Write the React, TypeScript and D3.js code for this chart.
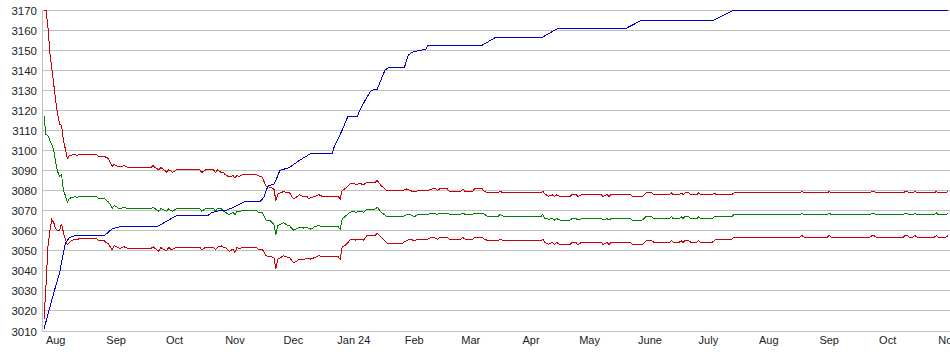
import React, { useEffect, useRef } from "react";
import * as d3 from "d3";

// daily values (only the days where something changes)
const bandDates = [
  "2023-08-09", "2023-08-10", "2023-08-11", "2023-08-12", "2023-08-13", "2023-08-14", "2023-08-15", "2023-08-16",
  "2023-08-17", "2023-08-18", "2023-08-19", "2023-08-20", "2023-08-21", "2023-08-22", "2023-08-23", "2023-08-24",
  "2023-08-25", "2023-08-26", "2023-08-27", "2023-09-05", "2023-09-06", "2023-09-09", "2023-09-10", "2023-09-11",
  "2023-09-12", "2023-09-13", "2023-09-14", "2023-09-15", "2023-09-17", "2023-09-19", "2023-09-21", "2023-10-03",
  "2023-10-04", "2023-10-05", "2023-10-07", "2023-10-08", "2023-10-11", "2023-10-12", "2023-10-13", "2023-10-14",
  "2023-10-16", "2023-10-28", "2023-10-29", "2023-10-31", "2023-11-04", "2023-11-05", "2023-11-06", "2023-11-08",
  "2023-11-09", "2023-11-10", "2023-11-12", "2023-11-14", "2023-11-15", "2023-11-16", "2023-11-17", "2023-11-19",
  "2023-11-26", "2023-11-27", "2023-11-29", "2023-12-01", "2023-12-03", "2023-12-05", "2023-12-06", "2023-12-07",
  "2023-12-10", "2023-12-12", "2023-12-13", "2023-12-15", "2023-12-17", "2023-12-18", "2023-12-20", "2023-12-22",
  "2023-12-23", "2023-12-24", "2023-12-26", "2023-12-28", "2023-12-30", "2024-01-07", "2024-01-08", "2024-01-09",
  "2024-01-11", "2024-01-13", "2024-01-15", "2024-01-16", "2024-01-18", "2024-01-20", "2024-01-22", "2024-01-26",
  "2024-01-27", "2024-01-29", "2024-02-01", "2024-02-09", "2024-02-11", "2024-02-13", "2024-02-15", "2024-02-17",
  "2024-02-22", "2024-02-24", "2024-02-26", "2024-02-27", "2024-02-28", "2024-03-03", "2024-03-04", "2024-03-10",
  "2024-03-11", "2024-03-12", "2024-03-16", "2024-03-17", "2024-03-21", "2024-03-22", "2024-03-24", "2024-03-29",
  "2024-03-30", "2024-04-01", "2024-04-20", "2024-04-21", "2024-04-22", "2024-04-24", "2024-04-26", "2024-04-27",
  "2024-04-28", "2024-04-30", "2024-05-05", "2024-05-06", "2024-05-08", "2024-05-09", "2024-05-11", "2024-05-21",
  "2024-05-22", "2024-05-24", "2024-05-25", "2024-05-26", "2024-06-05", "2024-06-06", "2024-06-11", "2024-06-13",
  "2024-06-16", "2024-06-17", "2024-06-25", "2024-06-26", "2024-06-27", "2024-06-30", "2024-07-01", "2024-07-02",
  "2024-07-03", "2024-07-05", "2024-07-06", "2024-07-09", "2024-07-10", "2024-07-11", "2024-07-17", "2024-07-18",
  "2024-07-19", "2024-07-27", "2024-07-28", "2024-08-31", "2024-09-01", "2024-09-02", "2024-09-14", "2024-09-15",
  "2024-09-16", "2024-10-06", "2024-10-07", "2024-10-08", "2024-10-09", "2024-10-23", "2024-10-24", "2024-10-25",
  "2024-10-26", "2024-10-28", "2024-10-29", "2024-10-30", "2024-11-08", "2024-11-09", "2024-11-10", "2024-11-14", "2024-11-15",
];

const upperBand = [
  3170, 3170, 3162, 3149, 3141, 3133, 3125, 3118,
  3113, 3112.5, 3105, 3100.5, 3096, 3097.5, 3097.5, 3098,
  3098, 3097.5, 3098, 3098, 3097, 3097, 3096.5, 3096,
  3094, 3092, 3093, 3092.5, 3091.7, 3092.5, 3091.5, 3091.5,
  3092.5, 3091.5, 3090.3, 3091.5, 3089.2, 3090.3, 3089.8, 3089,
  3090.3, 3090.3, 3089, 3090.3, 3090.3, 3089, 3090.3, 3089,
  3089, 3088, 3086.7, 3087.5, 3086.2, 3087.8, 3087, 3088,
  3088, 3087.3, 3086.7, 3082, 3081.7, 3080.8, 3075, 3078.3,
  3079.5, 3079, 3079, 3075.8, 3077, 3078, 3077, 3077,
  3075.8, 3076.5, 3077, 3078, 3077, 3077, 3075.8, 3080,
  3081.3, 3083.3, 3083.5, 3083, 3083.5, 3083, 3084.2, 3084.2,
  3085, 3082.5, 3080, 3080, 3080.8, 3080, 3079.3, 3080,
  3080, 3080.8, 3080.8, 3080, 3080.8, 3080.8, 3079.6, 3079.6,
  3080.8, 3079.6, 3079.6, 3080.8, 3080.8, 3079.6, 3078.8, 3078.8,
  3079.6, 3078.8, 3078.8, 3079.6, 3078.3, 3077.2, 3077.8, 3077,
  3077.8, 3077, 3077, 3078, 3078, 3077, 3078, 3078,
  3077, 3078, 3077, 3078, 3078, 3077, 3077, 3078.8,
  3078.8, 3078, 3078, 3078.8, 3078, 3078, 3078.8, 3078,
  3078.8, 3078.8, 3078, 3078, 3078.8, 3078, 3078, 3078.8,
  3078, 3078, 3078.8, 3078.8, 3079.6, 3078.8, 3078.8, 3079.6,
  3078.8, 3078.8, 3079.6, 3079.6, 3078.8, 3078.8, 3079.6, 3079.6,
  3078.8, 3078.8, 3079.6, 3078.8, 3078.8, 3079.6, 3078.8, 3078.8, 3079.6,
];

const middleLine = [
  3117, 3108, 3107.5, 3105, 3103, 3100, 3094, 3089.5,
  3087, 3088, 3080, 3077.5, 3074, 3076, 3076.5, 3076.5,
  3077, 3076.5, 3077, 3077, 3076, 3076, 3075, 3074.5,
  3073, 3071, 3072.5, 3072, 3070.8, 3071.7, 3071, 3071,
  3071.7, 3071, 3069.7, 3071, 3069.7, 3071, 3070, 3069.7,
  3071, 3071, 3069.7, 3071, 3071, 3069.7, 3071, 3071,
  3069.7, 3069.2, 3068, 3069, 3068, 3069.7, 3069.5, 3070,
  3070, 3069.2, 3069.2, 3065.3, 3065, 3063.3, 3058, 3062.5,
  3064, 3062.5, 3062.5, 3060.3, 3061, 3061.7, 3061.3, 3061.7,
  3061, 3060.8, 3062, 3062.5, 3062, 3062, 3060.8, 3065.8,
  3067.5, 3069.2, 3069.7, 3069.2, 3069.7, 3069.2, 3070.8, 3070.8,
  3071.7, 3069.2, 3067, 3067, 3068, 3068, 3067, 3068,
  3068, 3068.8, 3068.5, 3068, 3068.8, 3068.8, 3068.2, 3068.2,
  3068.8, 3068.2, 3068.2, 3068.8, 3068.8, 3068.2, 3067, 3067,
  3068.2, 3067, 3067, 3068.2, 3066.2, 3065.7, 3066, 3065.3,
  3066, 3065.3, 3065.3, 3066, 3066, 3065.3, 3066, 3066,
  3065.3, 3066, 3065.3, 3066, 3066, 3065.3, 3065.3, 3067,
  3067, 3066, 3066, 3067, 3066, 3066, 3067, 3066,
  3067, 3067, 3066, 3066, 3067, 3066, 3066, 3067,
  3067, 3067, 3068, 3068, 3068.8, 3068, 3068, 3068.8,
  3068, 3068, 3068.8, 3068.8, 3068, 3068, 3068.8, 3068.8,
  3068, 3068, 3068.8, 3068, 3068, 3068.8, 3068, 3068, 3068.8,
];

const lowerBand = [
  3016, 3032, 3052, 3060, 3065.5, 3064, 3061, 3060,
  3060, 3063.5, 3059, 3055.5, 3053, 3054, 3055, 3055.5,
  3055.5, 3055.5, 3056, 3056, 3055, 3055, 3054, 3053.5,
  3052, 3050.5, 3052.5, 3052, 3051.2, 3052, 3051.2, 3051.2,
  3052, 3051.2, 3049.7, 3051.5, 3050, 3051.7, 3050.8, 3050.8,
  3051.7, 3051.7, 3050.5, 3051.7, 3051.7, 3050.5, 3051.7, 3052.5,
  3051.7, 3051.7, 3049.7, 3050.8, 3049.2, 3051.7, 3051, 3051.7,
  3051.7, 3050.8, 3050.8, 3047.5, 3047, 3046.7, 3040.8, 3045.8,
  3047.5, 3046.7, 3046.7, 3044, 3045, 3045.8, 3045.5, 3046.3,
  3046.3, 3045.8, 3046.7, 3047.5, 3047, 3047, 3045.8, 3051.7,
  3053, 3055.3, 3055.8, 3055.3, 3055.8, 3055.3, 3057.8, 3057.8,
  3058.7, 3056.7, 3053.8, 3053.8, 3055, 3055.8, 3055, 3055.8,
  3055.8, 3056.7, 3056.3, 3055.5, 3056.7, 3056.7, 3055.8, 3055.8,
  3056.7, 3055.8, 3055.8, 3056.7, 3056.7, 3055.8, 3055, 3055,
  3055.8, 3055, 3055, 3055.8, 3054.2, 3053.3, 3054.2, 3053,
  3054.2, 3053, 3053, 3054.2, 3054.2, 3053, 3054.2, 3054.2,
  3053, 3054.2, 3053, 3054.2, 3054.2, 3053, 3053, 3055,
  3055, 3054.2, 3054.2, 3055, 3054.2, 3054.2, 3055, 3054.2,
  3055, 3055, 3054.2, 3054.2, 3055, 3054.2, 3054.2, 3055,
  3055.8, 3055.8, 3056.8, 3056.8, 3057.6, 3056.8, 3056.8, 3057.6,
  3056.8, 3056.8, 3057.6, 3057.6, 3056.8, 3056.8, 3057.6, 3057.6,
  3056.8, 3056.8, 3057.6, 3056.8, 3056.8, 3057.6, 3056.8, 3056.8, 3057.6,
];

const peakDates = [
  "2023-08-09", "2023-08-14", "2023-08-17", "2023-08-20", "2023-08-22", "2023-08-25", "2023-09-09", "2023-09-13",
  "2023-09-17", "2023-10-06", "2023-10-16", "2023-11-01", "2023-11-03", "2023-11-07", "2023-11-10", "2023-11-14",
  "2023-11-20", "2023-11-28", "2023-11-30", "2023-12-02", "2023-12-05", "2023-12-06", "2023-12-08", "2023-12-13",
  "2023-12-18", "2023-12-24", "2024-01-04", "2024-01-05", "2024-01-09", "2024-01-12", "2024-01-17", "2024-01-18",
  "2024-01-22", "2024-01-24", "2024-01-27", "2024-01-31", "2024-02-02", "2024-02-10", "2024-02-12", "2024-02-14",
  "2024-02-21", "2024-02-22", "2024-03-21", "2024-03-28", "2024-04-21", "2024-04-29", "2024-06-03", "2024-06-11",
  "2024-07-18", "2024-07-28", "2024-11-15",
];

const peakValues = [
  3011, 3029, 3039, 3054, 3056.5, 3057.5, 3057.5, 3061,
  3062, 3062, 3067.5, 3067.5, 3069, 3070, 3070, 3071.5,
  3074.5, 3074.5, 3077, 3082.5, 3083, 3085, 3090, 3091.5,
  3095, 3098.5, 3098.5, 3102, 3110, 3117, 3117, 3120,
  3127, 3130, 3130.5, 3140, 3141.5, 3141.5, 3147.5, 3149,
  3150.5, 3152.5, 3152.5, 3156.5, 3156.5, 3161, 3161, 3165,
  3165, 3170, 3170,
];

const monthLabels = [
  "Aug", "Sep", "Oct", "Nov", "Dec", "Jan 24", "Feb", "Mar",
  "Apr", "May", "June", "July", "Aug", "Sep", "Oct", "Nov",
];
const monthMids = [
  "2023-08-15", "2023-09-15", "2023-10-15", "2023-11-15", "2023-12-15", "2024-01-15", "2024-02-15", "2024-03-15",
  "2024-04-15", "2024-05-15", "2024-06-15", "2024-07-15", "2024-08-15", "2024-09-15", "2024-10-15", "2024-11-15",
];

const yTicks = [3010, 3020, 3030, 3040, 3050, 3060, 3070, 3080, 3090, 3100, 3110, 3120, 3130, 3140, 3150, 3160, 3170];

const W = 950;
const H = 355;
const FONT = "'Liberation Sans', Arial, sans-serif";

export default function App() {
  const ref = useRef<SVGSVGElement>(null);

  useEffect(() => {
    const svg = d3.select(ref.current);
    svg.selectAll("*").remove();

    const parse = d3.utcParse("%Y-%m-%d");
    const x = d3
      .scaleUtc()
      .domain([parse("2023-08-09") as Date, parse("2024-11-16") as Date])
      .range([44, W]);
    const y = d3.scaleLinear().domain([3010, 3170]).range([331, 10]);

    // grid
    svg
      .append("g")
      .selectAll("line")
      .data(yTicks)
      .join("line")
      .attr("x1", 43)
      .attr("x2", W)
      .attr("y1", (d) => Math.floor(y(d)) + 0.5)
      .attr("y2", (d) => Math.floor(y(d)) + 0.5)
      .attr("stroke", "#c0c0c0")
      .attr("stroke-width", 1);

    svg
      .append("line")
      .attr("x1", 42.5)
      .attr("x2", 42.5)
      .attr("y1", 10)
      .attr("y2", 332)
      .attr("stroke", "#c0c0c0");

    // y labels
    svg
      .append("g")
      .selectAll("text")
      .data(yTicks)
      .join("text")
      .attr("x", 37)
      .attr("y", (d) => Math.floor(y(d)) + 4.5)
      .attr("text-anchor", "end")
      .style("font-family", FONT)
      .style("font-size", "11.5px")
      .style("fill", "#222")
      .text((d) => d);

    // x labels
    svg
      .append("g")
      .selectAll("text")
      .data(monthLabels)
      .join("text")
      .attr("x", (d, i) => x(parse(monthMids[i]) as Date))
      .attr("y", 344)
      .attr("text-anchor", "middle")
      .style("font-family", FONT)
      .style("font-size", "11px")
      .style("fill", "#222")
      .text((d) => d);

    const lineFor = (dates: string[]) =>
      d3
        .line<number>()
        .x((d, i) => x(parse(dates[i]) as Date))
        .y((d) => y(d));

    const series = [
      { values: upperBand, dates: bandDates, color: "#cc0000" },
      { values: lowerBand, dates: bandDates, color: "#cc0000" },
      { values: middleLine, dates: bandDates, color: "#008000" },
      { values: peakValues, dates: peakDates, color: "#0000cc" },
    ];

    svg
      .append("g")
      .selectAll("path")
      .data(series)
      .join("path")
      .attr("d", (s) => lineFor(s.dates)(s.values))
      .attr("fill", "none")
      .attr("stroke", (s) => s.color)
      .attr("stroke-width", 1)
      .attr("shape-rendering", "crispEdges");
  }, []);

  return (
    <svg
      ref={ref}
      width={W}
      height={H}
      style={{ position: "absolute", left: 0, top: 0, background: "#fff" }}
    />
  );
}
